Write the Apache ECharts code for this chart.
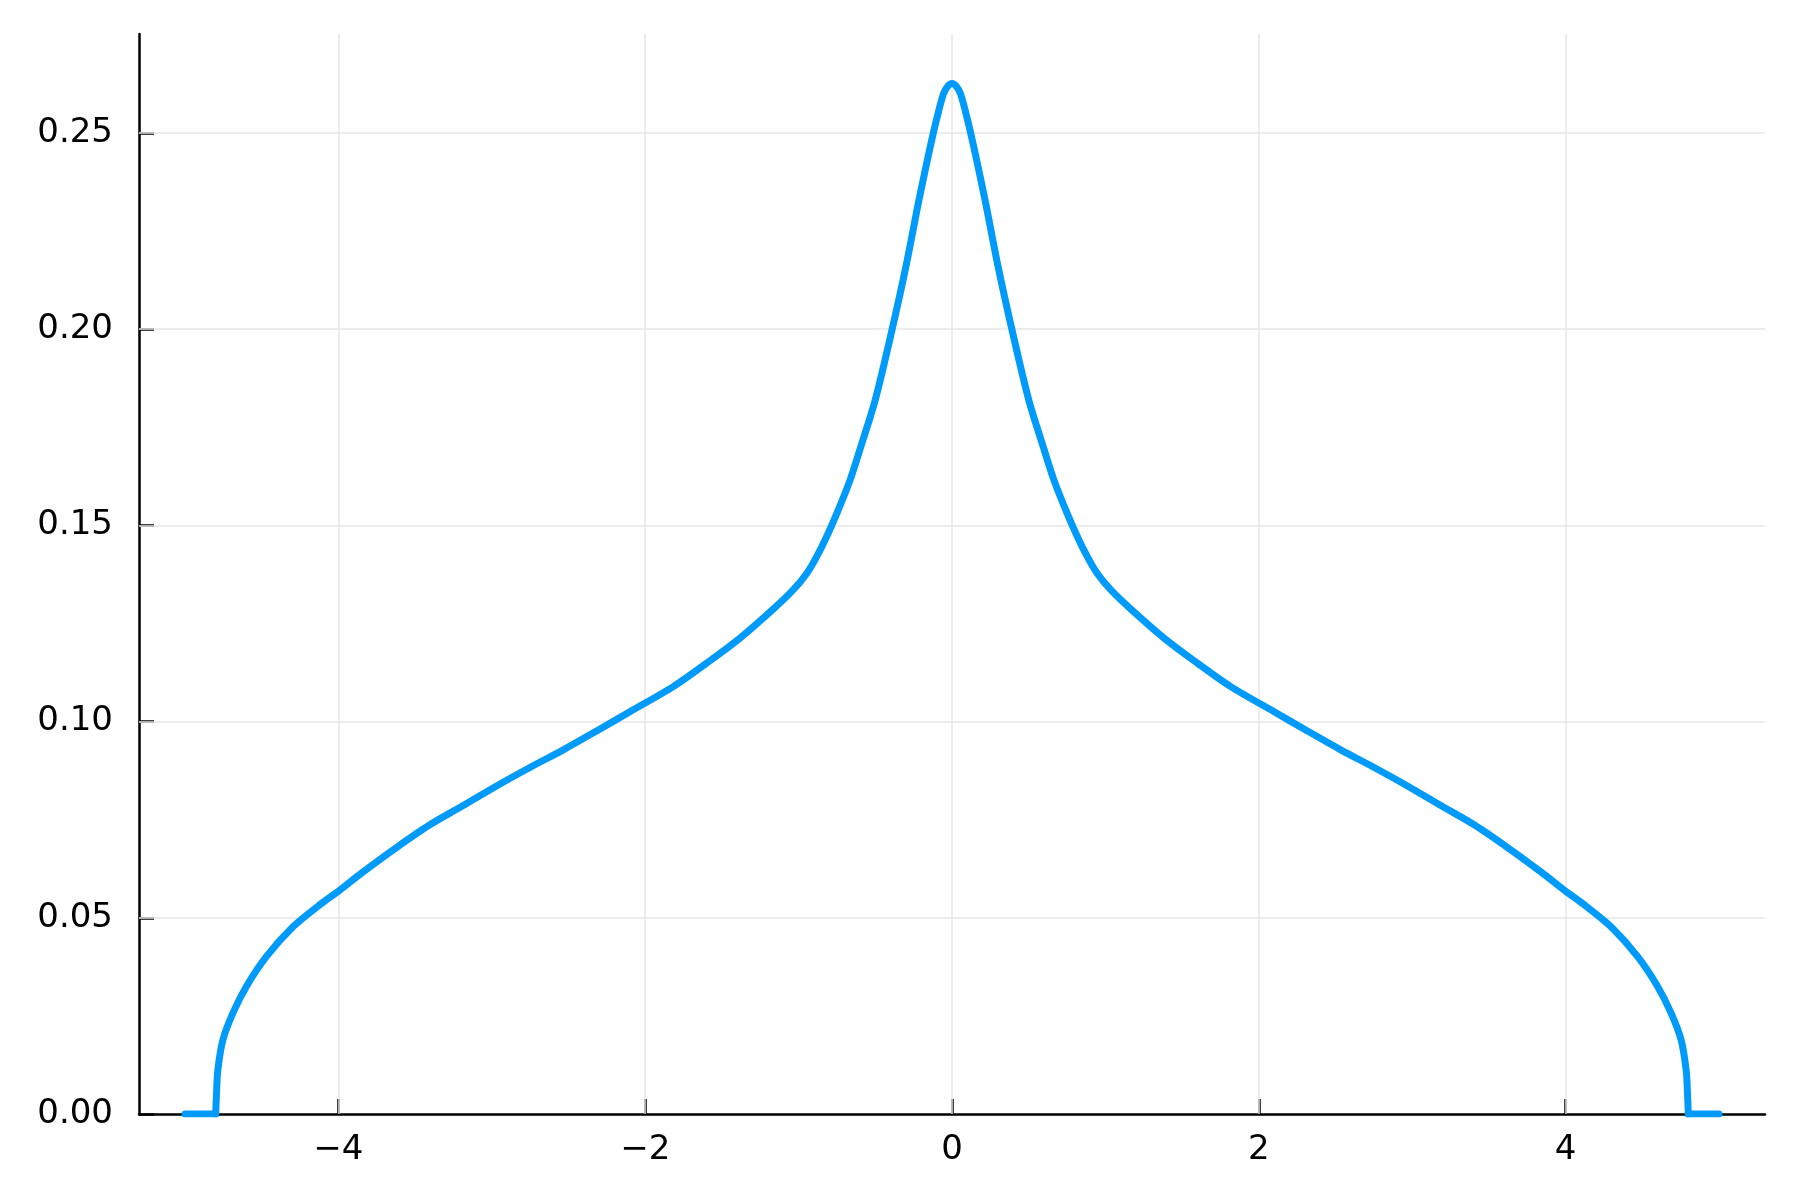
<!DOCTYPE html>
<html>
<head>
<meta charset="utf-8">
<title>density</title>
<script src="https://cdn.jsdelivr.net/npm/echarts@6/dist/echarts.min.js"></script>
<style>
  html, body { margin: 0; padding: 0; background: #fff; }
  #chart { width: 1800px; height: 1200px; }
</style>
</head>
<body>
<div id="chart"></div>
<script>
// curve
const xValues = [
  -4.80, -4.795, -4.786, -4.753, -4.688, -4.600, -4.470, -4.296, -4.122,
  -3.99, -3.839, -3.622, -3.404, -3.187, -2.969, -2.752, -2.534, -2.317, -2.100,
  -1.817, -1.599, -1.381, -1.164, -1.034, -0.946, -0.881, -0.816, -0.750, -0.664,
  -0.59, -0.50, -0.39, -0.30, -0.22, -0.15, -0.097, -0.055, -0.025, 0,
  0.025, 0.055, 0.097, 0.15, 0.22, 0.30, 0.39, 0.50, 0.59,
  0.664, 0.750, 0.816, 0.881, 0.946, 1.034, 1.164, 1.381, 1.599, 1.817,
  2.100, 2.317, 2.534, 2.752, 2.969, 3.187, 3.404, 3.622, 3.839, 3.99,
  4.122, 4.296, 4.470, 4.600, 4.688, 4.753, 4.786, 4.795, 4.80
];
const yValues = [
  0, 0.005, 0.0112, 0.0189, 0.0257, 0.0325, 0.0401, 0.0477, 0.0533,
  0.0571, 0.0617, 0.0679, 0.0737, 0.0786, 0.0836, 0.0883, 0.0928, 0.0976, 0.1025,
  0.1089, 0.1149, 0.1213, 0.1287, 0.1336, 0.1378, 0.1421, 0.1472, 0.1531, 0.1616,
  0.1706, 0.1820, 0.2000, 0.2160, 0.2320, 0.2450, 0.2540, 0.2600, 0.2620, 0.2626,
  0.2620, 0.2600, 0.2540, 0.2450, 0.2320, 0.2160, 0.2000, 0.1820, 0.1706,
  0.1616, 0.1531, 0.1472, 0.1421, 0.1378, 0.1336, 0.1287, 0.1213, 0.1149, 0.1089,
  0.1025, 0.0976, 0.0928, 0.0883, 0.0836, 0.0786, 0.0737, 0.0679, 0.0617, 0.0571,
  0.0533, 0.0477, 0.0401, 0.0325, 0.0257, 0.0189, 0.0112, 0.005, 0
];
// flat zero pieces at both ends
const leftFlatX = [-5.0, -4.80];
const rightFlatX = [4.80, 5.0];
const flatY = [0, 0];

const xTicks = [-4, -2, 0, 2, 4];
const yTicks = [0, 0.05, 0.10, 0.15, 0.20, 0.25];

const chart = echarts.init(document.getElementById('chart'));

const blue = '#009afa';
const gridStyle = { color: '#e6e6e6', width: 1.5, type: 'solid' };
const labelFont = { color: '#000', fontSize: 34, fontFamily: 'DejaVu Sans' };
const lineStyle = { color: blue, width: 7, join: 'round', cap: 'round' };

const pairs = (xs, ys) => xs.map((x, i) => [x, ys[i]]);

const option = {
  animation: false,
  backgroundColor: '#fff',
  grid: { left: 139, right: 35, top: 34, bottom: 86, containLabel: false },
  xAxis: {
    type: 'value',
    min: -5.3,
    max: 5.3,
    axisLine: { onZero: false, lineStyle: { color: '#000', width: 2.5 } },
    axisTick: { inside: true, length: 15, customValues: xTicks, lineStyle: { color: '#000', width: 2.5 } },
    axisLabel: Object.assign({
      margin: 19,
      customValues: xTicks,
      formatter: (v) => String(v).replace('-', '\u2212'),
    }, labelFont),
    splitLine: { show: false },
  },
  yAxis: {
    type: 'value',
    min: 0,
    max: 0.2752,
    axisLine: { show: true, onZero: false, lineStyle: { color: '#000', width: 2.5 } },
    axisTick: { show: true, inside: true, length: 15, customValues: yTicks, lineStyle: { color: '#000', width: 2.5 } },
    axisLabel: Object.assign({
      margin: 26,
      customValues: yTicks,
      formatter: (v) => v.toFixed(2),
    }, labelFont),
    splitLine: { show: false },
  },
  series: [
    {
      type: 'line',
      data: pairs(xValues, yValues),
      showSymbol: false,
      smooth: 0.3,
      z: 3,
      lineStyle: lineStyle,
      markLine: {
        silent: true,
        symbol: 'none',
        label: { show: false },
        lineStyle: gridStyle,
        z: 1,
        data: xTicks.map((v) => ({ xAxis: v }))
          .concat(yTicks.filter((v) => v > 0).map((v) => ({ yAxis: v }))),
      },
    },
    {
      type: 'line',
      data: pairs(leftFlatX, flatY),
      showSymbol: false,
      z: 3,
      lineStyle: lineStyle,
    },
    {
      type: 'line',
      data: pairs(rightFlatX, flatY),
      showSymbol: false,
      z: 3,
      lineStyle: lineStyle,
    },
  ],
};

chart.setOption(option);
</script>
</body>
</html>
